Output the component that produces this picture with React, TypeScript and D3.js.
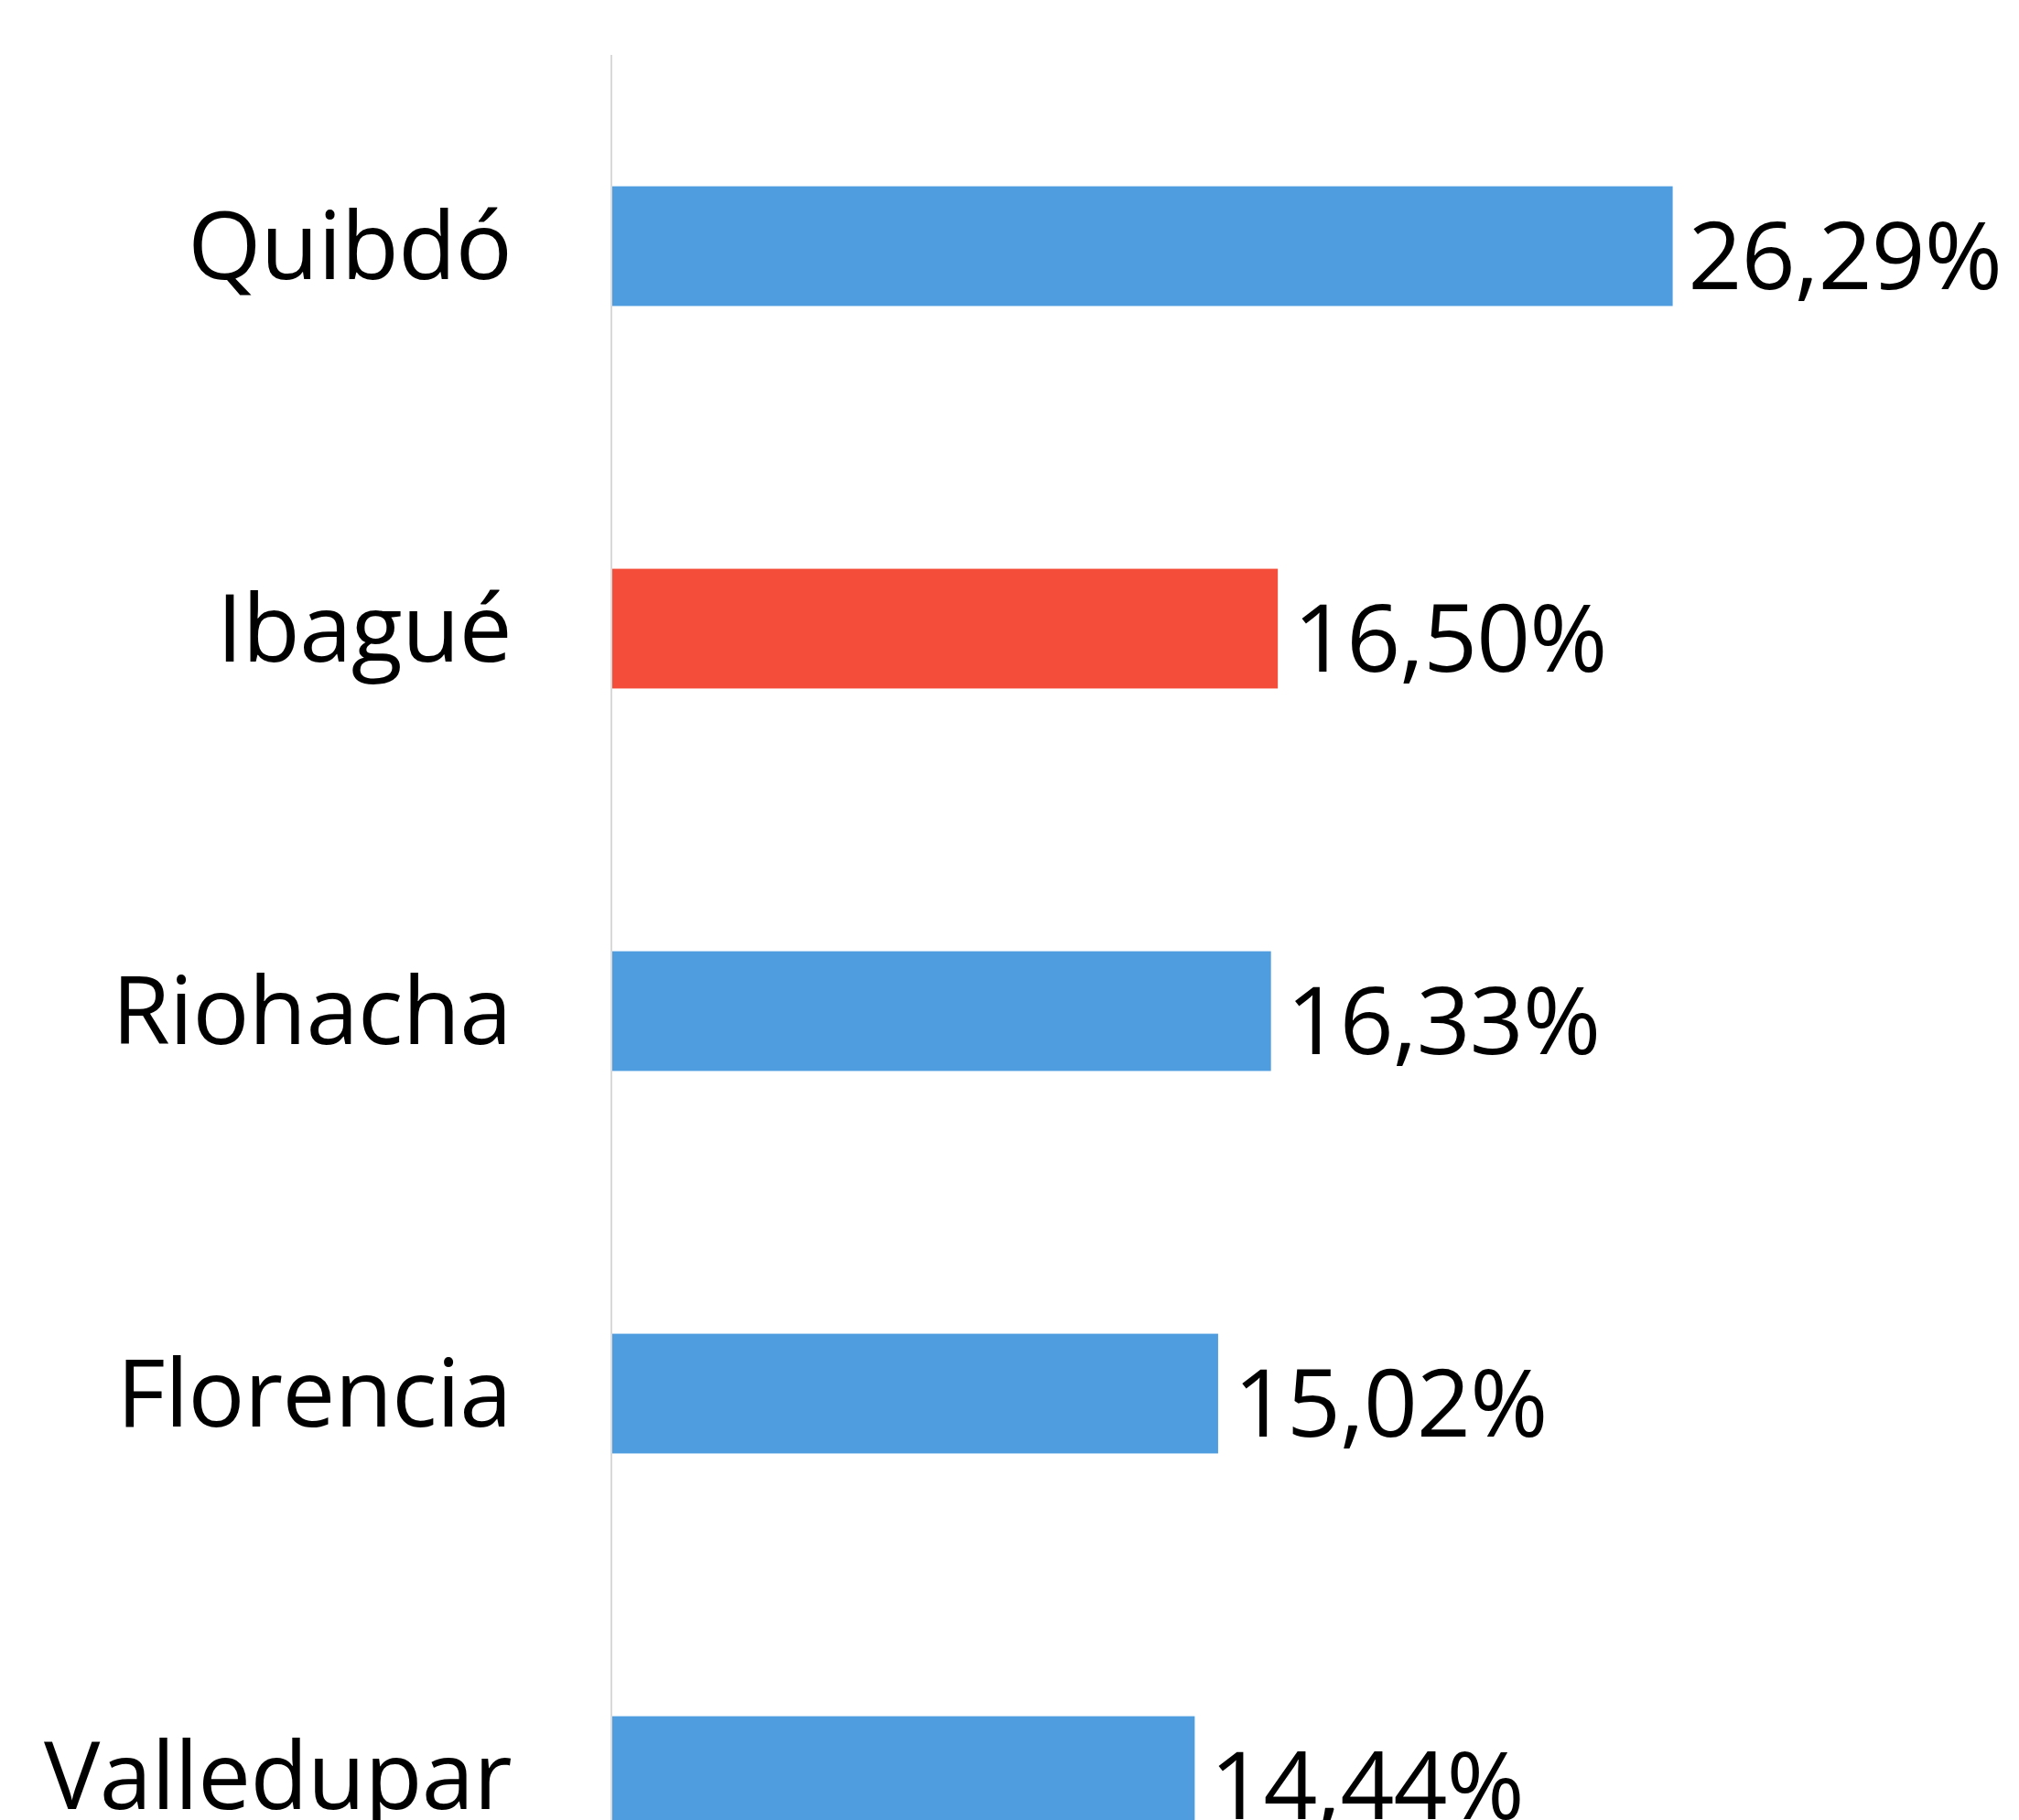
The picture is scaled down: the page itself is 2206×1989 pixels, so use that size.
import React from "react";
import * as d3 from "d3";

const categories = ["Quibdó", "Ibagué", "Riohacha", "Florencia", "Valledupar"];
const values = [26.29, 16.5, 16.33, 15.02, 14.44];
const highlight = ["Ibagué"];

const W = 2206;
const H = 1989;
const BLUE = "#4f9ddf";
const RED = "#f44e3a";
const FONT = "'Open Sans', 'Noto Sans', sans-serif";

export default function App() {
  const x = d3.scaleLinear().domain([0, 30]).range([669, 669 + 30 * 44.07]);
  const y = d3
    .scaleBand<string>()
    .domain(categories)
    .range([60, 60 + 418 * categories.length])
    .paddingInner(0.687)
    .paddingOuter(0.3435);
  const fmt = (v: number) => v.toFixed(2).replace(".", ",") + "%";

  return (
    <svg
      width={W}
      height={H}
      style={{ position: "absolute", left: 0, top: 0, background: "#fff" }}
    >
      <rect width={W} height={H} fill="#fff" />
      {categories.map((c, i) => {
        const y0 = y(c)!;
        const bw = y.bandwidth();
        const cy = y0 + bw / 2;
        return (
          <g key={c}>
            <rect
              x={x(0)}
              y={y0}
              width={x(values[i]) - x(0)}
              height={bw}
              fill={highlight.includes(c) ? RED : BLUE}
            />
            <text
              x={559}
              y={cy + 35.5}
              textAnchor="end"
              fontFamily={FONT}
              fontSize={103}
              letterSpacing={-0.6}
              fill="#000"
            >
              {c}
            </text>
            <text
              x={x(values[i]) + 17}
              y={cy + 46.5}
              textAnchor="start"
              fontFamily={FONT}
              fontSize={103}
              letterSpacing={-0.8}
              fill="#000"
            >
              {fmt(values[i])}
            </text>
          </g>
        );
      })}
      <line x1={668} x2={668} y1={60} y2={H} stroke="#d9d9d9" strokeWidth={2} />
    </svg>
  );
}
